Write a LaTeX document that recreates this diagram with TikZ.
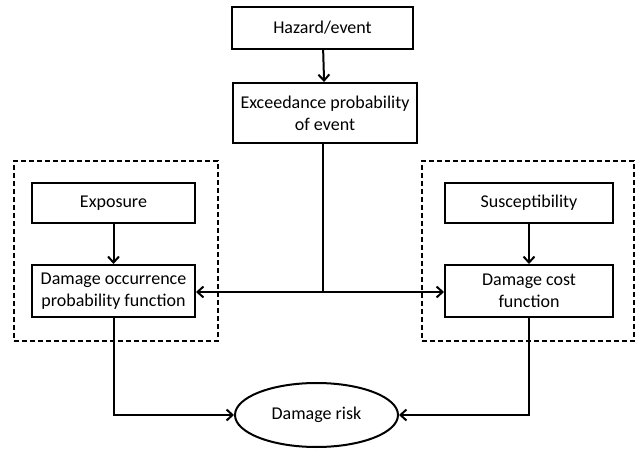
\documentclass[tikz,border=0pt]{standalone}
\usepackage{fontspec}
\setmainfont{Carlito}
\usetikzlibrary{arrows.meta,shapes.geometric}
\begin{document}
\begin{tikzpicture}[x=1pt,y=-1pt,
  every node/.style={font=\fontsize{18}{21.7}\selectfont, align=center, inner sep=0pt},
  box/.style={draw, line width=2pt, rectangle},
  grp/.style={draw, line width=1.8pt, dash pattern=on 5pt off 3pt},
  conn/.style={line width=2pt},
  arr/.style={conn, -{Straight Barb[length=6pt,width=11pt,line width=2pt]}}]
\useasboundingbox (0,0) rectangle (638,449);
\node[grp, minimum width=204pt, minimum height=180pt] (lgrp) at (116,251) {};
\node[grp, minimum width=212pt, minimum height=180pt] (rgrp) at (528,251) {};
\node[box, minimum width=181pt, minimum height=42pt] (haz) at (322.5,28) {Hazard/event};
\node[box, minimum width=184pt, minimum height=60pt] (exc) at (325,113) {Exceedance probability\\of event};
\node[box, minimum width=163pt, minimum height=40pt] (exp) at (113.5,203) {Exposure};
\node[box, minimum width=163pt, minimum height=52pt] (dop) at (113.5,291) {Damage occurrence\\probability function};
\node[box, minimum width=168pt, minimum height=40pt] (sus) at (529,203) {Susceptibility};
\node[box, minimum width=168pt, minimum height=52pt] (dcf) at (529,291) {Damage cost\\function};
\node[ellipse, draw, line width=2pt, minimum width=163pt, minimum height=64pt] (risk) at (316.5,415) {Damage risk};
\coordinate (j) at (323,292);
\draw[arr] (haz) -- (exc);
\draw[conn] (j |- exc.south) -- (j);
\draw[arr] (j) -- (dop.east |- j);
\draw[arr] (j) -- (dcf.west |- j);
\draw[arr] (exp) -- (dop);
\draw[arr] (sus) -- (dcf);
\draw[arr] (dop.south) |- (risk.west);
\draw[arr] (dcf.south) |- (risk.east);
\end{tikzpicture}
\end{document}
